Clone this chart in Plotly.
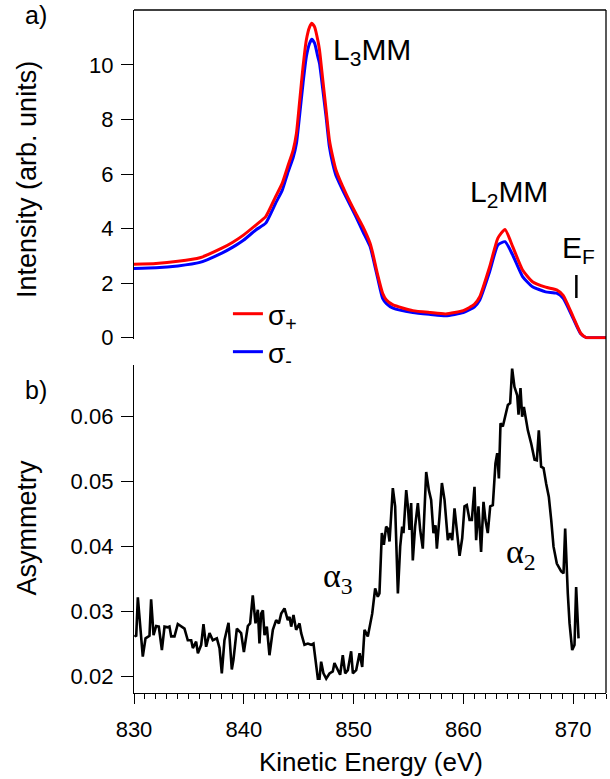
import plotly.graph_objects as go

# ---- panel a) spectra ----
energy_top = [830.0, 832.0, 834.0, 836.0, 838.0, 839.0, 840.0, 841.1, 842.0, 842.9,
              843.5, 844.0, 844.5, 844.8, 845.1, 845.4, 845.7, 846.0, 846.2, 846.45,
              846.75, 846.9, 847.2, 847.5, 847.8, 848.1, 848.4, 849.3, 850.2, 850.85,
              851.5, 851.75, 852.2, 852.65, 853.0, 853.6, 855.4, 857.0, 858.4, 860.0,
              861.0, 861.5, 862.4, 863.15, 863.8, 864.5, 865.4, 866.3, 867.5, 868.5,
              869.1, 870.0, 870.7, 871.2, 872.0, 873.0]
sigma_plus = [2.69, 2.72, 2.80, 2.93, 3.28, 3.50, 3.77, 4.13, 4.44, 5.17,
              5.66, 6.27, 6.88, 7.50, 8.71, 9.94, 10.92, 11.40, 11.53, 11.40,
              10.90, 10.55, 9.45, 8.35, 7.25, 6.64, 6.15, 5.29, 4.56, 4.07,
              3.47, 3.10, 2.30, 1.63, 1.38, 1.20, 0.99, 0.92, 0.87, 0.99,
              1.22, 1.50, 2.60, 3.65, 3.97, 3.34, 2.48, 2.05, 1.85, 1.75,
              1.55, 0.77, 0.16, 0.0, 0.0, 0.0]
sigma_minus = [2.54, 2.56, 2.63, 2.76, 3.10, 3.32, 3.58, 3.95, 4.20, 4.93,
               5.40, 6.03, 6.60, 7.13, 8.20, 9.33, 10.30, 10.80, 10.94, 10.80,
               10.30, 10.06, 9.10, 8.10, 7.00, 6.39, 5.95, 5.17, 4.45, 3.89,
               3.35, 2.97, 2.18, 1.44, 1.25, 1.08, 0.92, 0.85, 0.80, 0.92,
               1.12, 1.38, 2.42, 3.40, 3.52, 3.03, 2.24, 1.87, 1.68, 1.63,
               1.44, 0.71, 0.14, 0.0, 0.0, 0.0]

# ---- panel b) asymmetry ----
energy_asym = [830.05, 830.20, 830.35, 830.80, 831.05, 831.41, 831.56, 831.78, 832.02, 832.26,
               832.54, 832.78, 833.08, 833.23, 833.39, 833.69, 833.99, 834.30, 834.60, 834.90,
               835.21, 835.36, 835.66, 835.82, 836.12, 836.33, 836.57, 836.88, 837.18, 837.55,
               837.79, 838.00, 838.24, 838.61, 838.91, 839.06, 839.37, 839.76, 840.01, 840.37,
               840.58, 840.82, 841.07, 841.28, 841.43, 841.58, 841.74, 841.89, 842.10, 842.34,
               842.65, 842.95, 843.20, 843.41, 843.71, 844.01, 844.17, 844.32, 844.53, 844.77,
               845.08, 845.23, 845.53, 845.84, 846.14, 846.35, 846.53, 846.75, 846.90, 847.05,
               847.26, 847.51, 847.81, 848.11, 848.26, 848.57, 848.78, 849.02, 849.24, 849.48,
               849.78, 849.94, 850.24, 850.55, 850.79, 851.00, 851.30, 851.70, 851.97, 852.21,
               852.36, 852.58, 852.76, 852.97, 853.12, 853.28, 853.58, 853.79, 854.04, 854.25,
               854.43, 854.55, 854.80, 854.95, 855.10, 855.25, 855.40, 855.61, 855.86, 856.07,
               856.31, 856.62, 856.86, 857.07, 857.28, 857.47, 857.59, 857.83, 858.05, 858.29,
               858.59, 858.80, 858.99, 859.20, 859.35, 859.66, 859.90, 860.11, 860.32, 860.57,
               860.78, 861.02, 861.17, 861.38, 861.62, 861.84, 862.02, 862.23, 862.45, 862.69,
               862.93, 863.09, 863.24, 863.39, 863.60, 863.85, 864.06, 864.27, 864.45, 864.66,
               864.91, 865.03, 865.21, 865.36, 865.52, 865.67, 865.88, 866.18, 866.49, 866.70,
               866.88, 867.09, 867.31, 867.55, 867.79, 868.01, 868.22, 868.52, 868.92, 869.13,
               869.28, 869.52, 869.68, 869.92, 870.13, 870.28, 870.50]
asymmetry = [0.0264, 0.0262, 0.0322, 0.0231, 0.0259, 0.0263, 0.0319, 0.0264, 0.0278, 0.0277,
             0.0241, 0.0277, 0.0276, 0.0277, 0.0262, 0.0262, 0.0281, 0.0277, 0.0274, 0.0256,
             0.0256, 0.0244, 0.0254, 0.0236, 0.0249, 0.0281, 0.0246, 0.0267, 0.0256, 0.0259,
             0.0244, 0.0205, 0.0256, 0.0283, 0.0211, 0.0226, 0.0274, 0.0267, 0.0238, 0.0278,
             0.0282, 0.0325, 0.0282, 0.0303, 0.0251, 0.0297, 0.0302, 0.0264, 0.0277, 0.0233,
             0.0272, 0.0287, 0.0282, 0.0297, 0.0305, 0.0287, 0.0292, 0.0277, 0.0295, 0.0272,
             0.0282, 0.0267, 0.0249, 0.0251, 0.0249, 0.0251, 0.0226, 0.0197, 0.0197, 0.0223,
             0.0205, 0.0197, 0.0205, 0.0208, 0.0221, 0.0210, 0.0203, 0.0233, 0.0205, 0.0210,
             0.0239, 0.0205, 0.0210, 0.0236, 0.0215, 0.0272, 0.0262, 0.0297, 0.0336, 0.0323,
             0.0328, 0.0421, 0.0403, 0.0431, 0.0428, 0.0408, 0.0490, 0.0462, 0.0328, 0.0400,
             0.0431, 0.0421, 0.0487, 0.0462, 0.0426, 0.0467, 0.0379, 0.0431, 0.0467, 0.0426,
             0.0397, 0.0515, 0.0487, 0.0472, 0.0421, 0.0433, 0.0397, 0.0446, 0.0498, 0.0472,
             0.0410, 0.0421, 0.0410, 0.0459, 0.0431, 0.0386, 0.0413, 0.0462, 0.0464, 0.0441,
             0.0441, 0.0492, 0.0410, 0.0462, 0.0392, 0.0469, 0.0441, 0.0421, 0.0462, 0.0464,
             0.0528, 0.0544, 0.0505, 0.0590, 0.0585, 0.0605, 0.0618, 0.0621, 0.0674, 0.0646,
             0.0633, 0.0603, 0.0644, 0.0600, 0.0615, 0.0600, 0.0579, 0.0559, 0.0534, 0.0533,
             0.0579, 0.0523, 0.0521, 0.0497, 0.0477, 0.0441, 0.0400, 0.0374, 0.0362, 0.0359,
             0.0428, 0.0328, 0.0282, 0.0241, 0.0249, 0.0338, 0.0259]

x_ticks = [830, 840, 850, 860, 870]
x_mid_ticks = [835, 845, 855, 865]
top_ticks = [0, 2, 4, 6, 8, 10]
bottom_ticks = [0.02, 0.03, 0.04, 0.05, 0.06]

FONT = "Liberation Sans, Arial, sans-serif"
SERIF = "Liberation Serif, Times New Roman, serif"
AX = dict(showgrid=False, zeroline=False, showline=True, linecolor="black",
          linewidth=1.3, ticks="outside", tickcolor="black", tickwidth=1.3,
          tickfont=dict(family=FONT, size=22, color="black"))

fig = go.Figure()
fig.add_trace(go.Scatter(x=energy_top, y=sigma_minus, mode="lines", name="σ<sub>-</sub>",
                         line=dict(color="#0000ff", width=3, shape="spline", smoothing=0.5),
                         xaxis="x", yaxis="y", legend="legend2"))
fig.add_trace(go.Scatter(x=energy_top, y=sigma_plus, mode="lines", name="σ<sub>+</sub>",
                         line=dict(color="#ff0000", width=3, shape="spline", smoothing=0.5),
                         xaxis="x", yaxis="y", legend="legend"))
fig.add_trace(go.Scatter(x=energy_asym, y=asymmetry, mode="lines", showlegend=False,
                         line=dict(color="black", width=2.6), xaxis="x", yaxis="y2"))

LEG = dict(xanchor="left", yanchor="top", bgcolor="rgba(0,0,0,0)",
           font=dict(family=FONT, size=28, color="black"))

fig.update_layout(
    width=610, height=779,
    margin=dict(l=134, r=4, t=10, b=86),
    paper_bgcolor="white", plot_bgcolor="white",
    font=dict(family=FONT, color="black"),
    xaxis=dict(AX, domain=[0, 1], range=[830, 873], anchor="y2",
               tickvals=x_ticks, ticklen=10, ticklabelstandoff=6,
               minor=dict(dtick=1, tick0=830, ticklen=5, tickwidth=1.3,
                          tickcolor="black", ticks="outside")),
    xaxis2=dict(overlaying="x", anchor="y2", side="bottom", range=[830, 873],
                domain=[0, 1], showline=False, showgrid=False, zeroline=False,
                tickvals=x_mid_ticks, ticks="outside", ticklen=8, tickwidth=1.3,
                tickcolor="black", showticklabels=False),
    yaxis=dict(AX, domain=[0.5179, 1], range=[-0.06, 12.017], anchor="x",
               tickvals=top_ticks, ticklen=12, ticklabelstandoff=3),
    yaxis2=dict(AX, domain=[0, 0.4802], range=[0.01749, 0.06795], anchor="x",
                tickvals=bottom_ticks, ticktext=[f"{v:.2f}" for v in bottom_ticks],
                ticklen=12, ticklabelstandoff=3),
    legend=dict(LEG, x=0.199, y=0.5915),
    legend2=dict(LEG, x=0.199, y=0.5359),
    showlegend=True,
)

# frame lines (top and right)
fig.add_shape(type="line", xref="paper", yref="paper", x0=0, x1=1, y0=1, y1=1,
              line=dict(color="black", width=1.3))
fig.add_shape(type="line", xref="paper", yref="paper", x0=1, x1=1, y0=0, y1=1,
              line=dict(color="black", width=1.3))
# Fermi-level marker
fig.add_shape(type="line", xref="x", yref="y", x0=870.3, x1=870.3, y0=1.45, y1=2.3,
              line=dict(color="black", width=2.5))

ann = [
    dict(text="a)", x=-0.235, y=0.992, xref="paper", yref="paper", xanchor="left",
         yanchor="middle", font=dict(size=25)),
    dict(text="b)", x=-0.235, y=0.443, xref="paper", yref="paper", xanchor="left",
         yanchor="middle", font=dict(size=25)),
    dict(text="Intensity (arb. units)", x=-0.2267, y=0.7526, xref="paper", yref="paper",
         textangle=-90, xanchor="center", yanchor="middle", font=dict(size=27)),
    dict(text="Asymmetry", x=-0.2267, y=0.2423, xref="paper", yref="paper",
         textangle=-90, xanchor="center", yanchor="middle", font=dict(size=27)),
    dict(text="Kinetic Energy (eV)", x=0.502, y=-0.101, xref="paper", yref="paper",
         xanchor="center", yanchor="middle", font=dict(size=26)),
    dict(text="L<sub>3</sub>MM", x=847.97, y=10.5, xref="x", yref="y",
         xanchor="left", yanchor="middle", font=dict(size=30)),
    dict(text="L<sub>2</sub>MM", x=860.4, y=5.3, xref="x", yref="y",
         xanchor="left", yanchor="middle", font=dict(size=30)),
    dict(text="E<sub>F</sub>", x=868.8, y=3.25, xref="x", yref="y",
         xanchor="left", yanchor="middle", font=dict(size=30)),
    dict(text="α<sub>3</sub>", x=847.0, y=0.0352, xref="x", yref="y2",
         xanchor="left", yanchor="middle", font=dict(family=SERIF, size=34)),
    dict(text="α<sub>2</sub>", x=863.7, y=0.0388, xref="x", yref="y2",
         xanchor="left", yanchor="middle", font=dict(family=SERIF, size=34)),
]
for a in ann:
    a.setdefault("showarrow", False)
    fig.add_annotation(**a)

fig.write_html("out.html", config={"displayModeBar": False},
               post_script="document.body.style.margin='0';")
